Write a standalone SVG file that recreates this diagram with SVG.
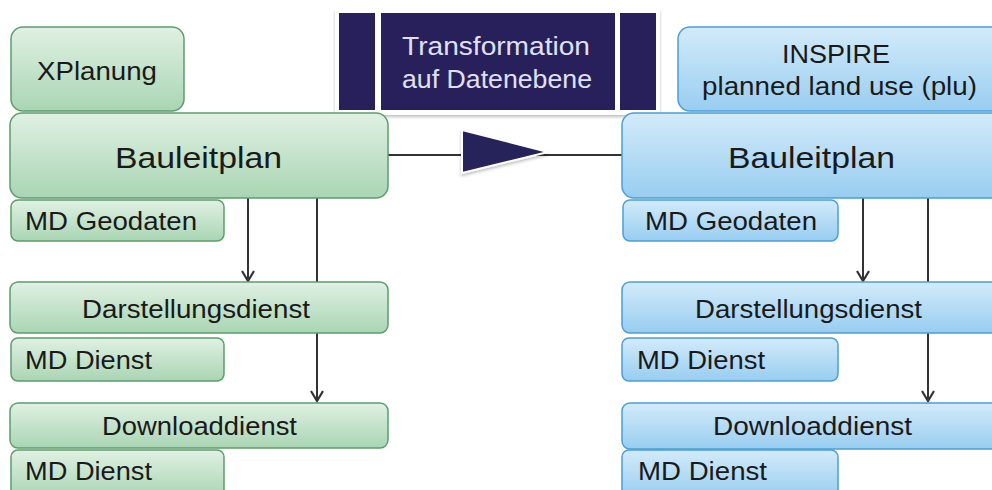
<svg xmlns="http://www.w3.org/2000/svg" width="992" height="490" viewBox="0 0 992 490">
<defs>
<linearGradient id="gG" x1="0" y1="0" x2="0" y2="1"><stop offset="0" stop-color="#e0f1e3"/><stop offset="1" stop-color="#a9d5b3"/></linearGradient>
<linearGradient id="gB" x1="0" y1="0" x2="0" y2="1"><stop offset="0" stop-color="#d3ebfa"/><stop offset="1" stop-color="#98cdf0"/></linearGradient>
<marker id="ah" viewBox="0 0 14 14" refX="12" refY="7" markerWidth="14" markerHeight="14" markerUnits="userSpaceOnUse" orient="auto">
<path d="M2,1 L12,7 L2,13" fill="none" stroke="#333" stroke-width="2.2"/>
</marker>
<filter id="sh" x="-10%" y="-10%" width="120%" height="130%"><feDropShadow dx="0" dy="2" stdDeviation="1.5" flood-color="#000" flood-opacity="0.25"/></filter>
</defs>
<style>
.g{fill:url(#gG);stroke:#5f9c6d;stroke-width:1.5}
.b{fill:url(#gB);stroke:#4b9fd6;stroke-width:1.5}
text{font-family:"Liberation Sans",Arial,sans-serif;fill:#1a1a1a}
.t20{font-size:25px}
.t26{font-size:29px}
.con{stroke:#333;stroke-width:2;fill:none}
.nv{fill:#28205a}
.tw{fill:#e0e0f4;font-size:25px}
</style>
<rect width="992" height="490" fill="#fff"/>

<g id="connectors">
<line class="con" x1="388" y1="155" x2="622" y2="155"/>
<polygon points="462,130 462,173 548,152" fill="#28205a" stroke="#fff" stroke-width="2" filter="url(#sh)"/>
<line class="con" x1="248" y1="198" x2="248" y2="281" marker-end="url(#ah)"/>
<line class="con" x1="317" y1="198" x2="317" y2="282"/>
<line class="con" x1="317" y1="333" x2="317" y2="401" marker-end="url(#ah)"/>
<line class="con" x1="863" y1="198" x2="863" y2="281" marker-end="url(#ah)"/>
<line class="con" x1="928" y1="198" x2="928" y2="282"/>
<line class="con" x1="928" y1="333" x2="928" y2="401" marker-end="url(#ah)"/>
</g>

<g id="transformation">
<rect x="335" y="9" width="325" height="106" fill="#fff" filter="url(#sh)"/>
<rect class="nv" x="339" y="13" width="36" height="97"/>
<rect class="nv" x="381" y="13" width="234" height="97"/>
<rect class="nv" x="620" y="13" width="36" height="97"/>
<text class="tw" x="402" y="55" textLength="188" lengthAdjust="spacingAndGlyphs">Transformation</text>
<text class="tw" x="402" y="88" textLength="190" lengthAdjust="spacingAndGlyphs">auf Datenebene</text>
</g>

<g id="xplanung"><rect class="g" x="11" y="27" width="173" height="84" rx="12"/><text class="t20" x="37" y="80" textLength="120" lengthAdjust="spacingAndGlyphs">XPlanung</text></g>
<g id="bauleitplan-l"><rect class="g" x="10" y="113" width="378" height="85" rx="12"/><text class="t26" x="115" y="168" textLength="167" lengthAdjust="spacingAndGlyphs">Bauleitplan</text></g>
<g id="mdgeo-l"><rect class="g" x="11" y="200" width="213" height="41" rx="7"/><text class="t20" x="25" y="230" textLength="172" lengthAdjust="spacingAndGlyphs">MD Geodaten</text></g>
<g id="darst-l"><rect class="g" x="10" y="282" width="378" height="51" rx="8"/><text class="t20" x="82" y="318" textLength="228" lengthAdjust="spacingAndGlyphs">Darstellungsdienst</text></g>
<g id="mddienst1-l"><rect class="g" x="11" y="338" width="213" height="43" rx="7"/><text class="t20" x="25" y="369" textLength="127" lengthAdjust="spacingAndGlyphs">MD Dienst</text></g>
<g id="download-l"><rect class="g" x="10" y="403" width="378" height="45" rx="8"/><text class="t20" x="102" y="435" textLength="195" lengthAdjust="spacingAndGlyphs">Downloaddienst</text></g>
<g id="mddienst2-l"><rect class="g" x="11" y="450" width="213" height="48" rx="7"/><text class="t20" x="25" y="480" textLength="127" lengthAdjust="spacingAndGlyphs">MD Dienst</text></g>

<g id="inspire"><rect class="b" x="678" y="27" width="330" height="84" rx="12"/><text class="t20" x="782" y="63" textLength="108" lengthAdjust="spacingAndGlyphs">INSPIRE</text><text class="t20" x="702" y="95" textLength="275" lengthAdjust="spacingAndGlyphs">planned land use (plu)</text></g>
<g id="bauleitplan-r"><rect class="b" x="622" y="113" width="386" height="85" rx="12"/><text class="t26" x="728" y="168" textLength="167" lengthAdjust="spacingAndGlyphs">Bauleitplan</text></g>
<g id="mdgeo-r"><rect class="b" x="623" y="200" width="215" height="41" rx="7"/><text class="t20" x="645" y="230" textLength="172" lengthAdjust="spacingAndGlyphs">MD Geodaten</text></g>
<g id="darst-r"><rect class="b" x="622" y="282" width="386" height="51" rx="8"/><text class="t20" x="695" y="318" textLength="227" lengthAdjust="spacingAndGlyphs">Darstellungsdienst</text></g>
<g id="mddienst1-r"><rect class="b" x="622" y="338" width="216" height="43" rx="7"/><text class="t20" x="637" y="369" textLength="128" lengthAdjust="spacingAndGlyphs">MD Dienst</text></g>
<g id="download-r"><rect class="b" x="622" y="403" width="386" height="46" rx="8"/><text class="t20" x="713" y="435" textLength="199" lengthAdjust="spacingAndGlyphs">Downloaddienst</text></g>
<g id="mddienst2-r"><rect class="b" x="622" y="450" width="216" height="48" rx="7"/><text class="t20" x="638" y="480" textLength="129" lengthAdjust="spacingAndGlyphs">MD Dienst</text></g>
</svg>
